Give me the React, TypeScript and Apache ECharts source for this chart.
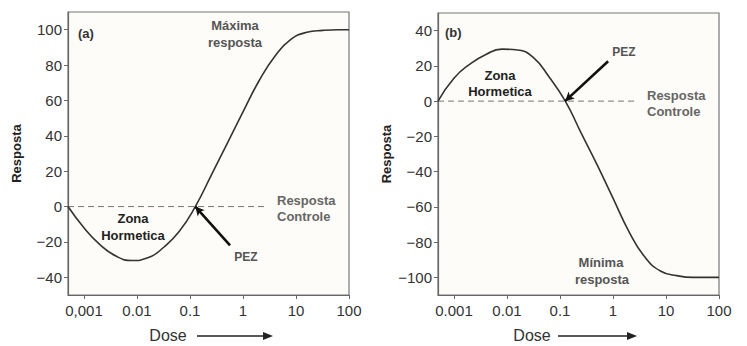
import React, { useEffect, useRef } from "react";
import * as echarts from "echarts";

// Doses sampled along the (log) dose axis
const doses = [0.0005, 0.001, 0.002, 0.004, 0.008, 0.016, 0.032, 0.063, 0.126, 0.25, 0.5, 1, 2, 4, 8, 16, 32, 63, 100];

// Panel (a): hormetic response curve (stimulation at high dose)
const respA = [0, -12, -21.5, -28, -30.5, -29, -23, -14, 0, 17.5, 35.5, 53.5, 71, 85, 94.5, 98.5, 99.6, 100, 100];

// Panel (b): hormetic response curve (inhibition at high dose)
const respB = [0, 13, 21, 26.5, 29.5, 29, 24.5, 13.5, 0, -18, -36, -55, -74, -88.5, -96.5, -99, -100, -100, -100];

const doseMin = 0.0005;
const doseMax = 100;
const xTickDoses = [0.001, 0.01, 0.1, 1, 10, 100];
const xTickLabelsA = ["0,001", "0.01", "0.1", "1", "10", "100"];
const xTickLabelsB = ["0.001", "0.01", "0.1", "1", "10", "100"];
const yTicksA = [-40, -20, 0, 20, 40, 60, 80, 100];
const yTicksB = [-100, -80, -60, -40, -20, 0, 20, 40];
const yRangeA = [-50, 110];
const yRangeB = [-110, 50];

const controlDose = [0.0005, 2.85];
const controlValue = 0;
const pezArrowA = [[0.57, -22], [0.126, 0]];
const pezArrowB = [[0.81, 22.6], [0.125, 0]];

const FONT = "'Liberation Sans', Arial, Helvetica, sans-serif";

function fmtY(v: number) {
  return v < 0 ? "\u2212" + Math.abs(v) : String(v);
}

export default function App() {
  const ref = useRef<HTMLDivElement>(null);

  useEffect(() => {
    if (!ref.current) return;
    const chart = echarts.init(ref.current, undefined, { renderer: "svg" });
    const lg = (d: number) => Math.log10(d);
    const tickLogs = xTickDoses.map(lg);

    const xAxis = (gi: number, labels: string[]) => ({
      gridIndex: gi,
      type: "value",
      min: lg(doseMin),
      max: lg(doseMax),
      axisLine: { show: true, onZero: false, lineStyle: { color: "#666", width: 1.2 } },
      axisTick: { show: true, length: 4, customValues: tickLogs, lineStyle: { color: "#666" } },
      axisLabel: {
        customValues: tickLogs,
        formatter: (v: number) => {
          const i = tickLogs.findIndex((t) => Math.abs(t - v) < 1e-6);
          return i >= 0 ? labels[i] : "";
        },
        fontSize: 15,
        color: "#333",
        margin: 8,
        fontFamily: FONT,
      },
      splitLine: { show: false },
    });

    const yAxis = (gi: number, ticks: number[], range: number[]) => ({
      gridIndex: gi,
      type: "value",
      min: range[0],
      max: range[1],
      name: "Resposta",
      nameLocation: "middle",
      nameGap: 45,
      nameRotate: 90,
      nameTextStyle: { fontSize: 13, fontWeight: "bold", color: "#222", fontFamily: FONT },
      axisLine: { show: true, onZero: false, lineStyle: { color: "#666", width: 1.2 } },
      axisTick: { show: true, length: 4, customValues: ticks, lineStyle: { color: "#666" } },
      axisLabel: {
        customValues: ticks,
        formatter: fmtY,
        fontSize: 15,
        color: "#333",
        margin: 6,
        fontFamily: FONT,
      },
      splitLine: { show: false },
    });

    const curve = (gi: number, vals: number[], arrow: number[][]) => ({
      type: "line",
      xAxisIndex: gi,
      yAxisIndex: gi,
      data: doses.map((d, i) => [lg(d), vals[i]]),
      smooth: 0.5,
      showSymbol: false,
      symbol: "none",
      lineStyle: { color: "#333", width: 1.6 },
      z: 3,
      markLine: {
        silent: true,
        symbol: ["none", "arrow"],
        symbolSize: [7, 9],
        label: { show: false },
        lineStyle: { color: "#111", width: 2.6, type: "solid" },
        data: [[{ coord: [lg(arrow[0][0]), arrow[0][1]] }, { coord: [lg(arrow[1][0]), arrow[1][1]] }]],
      },
    });

    const control = (gi: number) => ({
      type: "line",
      xAxisIndex: gi,
      yAxisIndex: gi,
      data: controlDose.map((d) => [lg(d), controlValue]),
      showSymbol: false,
      symbol: "none",
      lineStyle: { color: "#777", width: 1, type: [6, 4] },
      z: 2,
    });

    const txt = (text: string, x: number, y: number, opts: any = {}) => ({
      type: "text",
      x,
      y,
      silent: true,
      style: {
        text,
        fontSize: opts.fontSize ?? 13,
        fontWeight: opts.fontWeight ?? "bold",
        fontFamily: FONT,
        fill: opts.fill ?? "#444",
        textAlign: opts.align ?? "center",
        textVerticalAlign: "middle",
      },
      z: 10,
    });

    const doseArrow = (x1: number, x2: number, y: number) => [
      { type: "line", shape: { x1, y1: y, x2: x2 - 8, y2: y }, style: { stroke: "#222", lineWidth: 1.6 }, silent: true },
      {
        type: "polygon",
        shape: { points: [[x2 - 10, y - 4], [x2, y], [x2 - 10, y + 4]] },
        style: { fill: "#222" },
        silent: true,
      },
    ];

    chart.setOption({
      animation: false,
      backgroundColor: "#ffffff",
      grid: [
        { left: 68, right: 398, top: 12, bottom: 51, show: true, borderColor: "#777", borderWidth: 1.2, backgroundColor: "#fdfcf8", outerBoundsMode: "none" },
        { left: 438, right: 28, top: 13, bottom: 51, show: true, borderColor: "#777", borderWidth: 1.2, backgroundColor: "#fdfcf8", outerBoundsMode: "none" },
      ],
      xAxis: [xAxis(0, xTickLabelsA), xAxis(1, xTickLabelsB)],
      yAxis: [yAxis(0, yTicksA, yRangeA), yAxis(1, yTicksB, yRangeB)],
      series: [control(0), curve(0, respA, pezArrowA), control(1), curve(1, respB, pezArrowB)],
      graphic: [
        // Panel (a)
        txt("(a)", 78, 33, { align: "left", fill: "#333" }),
        txt("Máxima", 235, 25, { fill: "#555" }),
        txt("resposta", 235, 42, { fill: "#555" }),
        txt("Zona", 133, 218, { fill: "#222" }),
        txt("Hormetica", 133, 235, { fill: "#222" }),
        txt("Resposta", 277, 200, { align: "left", fill: "#666" }),
        txt("Controle", 277, 216, { align: "left", fill: "#666" }),
        txt("PEZ", 246, 257, { fill: "#555", fontSize: 12 }),
        txt("Dose", 168, 335, { fontWeight: "normal", fontSize: 16, fill: "#333" }),
        ...doseArrow(197, 273, 336),
        // Panel (b)
        txt("(b)", 445, 32, { align: "left", fill: "#333" }),
        txt("PEZ", 624, 52, { fill: "#555", fontSize: 12 }),
        txt("Zona", 500, 75, { fill: "#222" }),
        txt("Hormetica", 500, 91, { fill: "#222" }),
        txt("Resposta", 647, 95, { align: "left", fill: "#666" }),
        txt("Controle", 647, 111, { align: "left", fill: "#666" }),
        txt("Mínima", 601, 262, { fill: "#555" }),
        txt("resposta", 602, 279, { fill: "#555" }),
        txt("Dose", 532, 335, { fontWeight: "normal", fontSize: 16, fill: "#333" }),
        ...doseArrow(558, 637, 336),
      ],
    });

    return () => chart.dispose();
  }, []);

  return (
    <div
      ref={ref}
      style={{ position: "fixed", left: 0, top: 0, width: 747, height: 346, background: "#fff" }}
    />
  );
}
